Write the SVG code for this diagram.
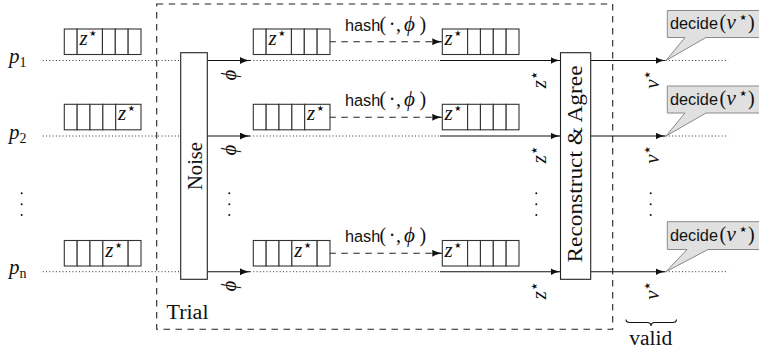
<svg xmlns="http://www.w3.org/2000/svg" width="759" height="351" viewBox="0 0 759 351">
  <style>
    .frame { fill: none; stroke: #222; stroke-width: 1.1; stroke-dasharray: 6.5 5.5; }
    .blk { fill: #fff; stroke: #222; stroke-width: 1.1; }
    .cell { fill: #fff; stroke: #333; stroke-width: 1.1; }
    .wire { fill: none; stroke: #111; stroke-width: 1.1; }
    .dotted { fill: none; stroke: #333; stroke-width: 1; stroke-dasharray: 1 2.3; }
    .hashline { fill: none; stroke: #222; stroke-width: 1.1; stroke-dasharray: 6.5 5.5; }
    .callout { fill: #e0e0e0; stroke: #8a8a8a; stroke-width: 1; }
    .rm { font-family: "Liberation Serif", "DejaVu Serif", serif; font-size: 20px; fill: #111; }
    .mi { font-family: "Liberation Serif", "DejaVu Serif", serif; font-style: italic; font-size: 21px; fill: #111; }
    .sf { font-family: "Liberation Sans", "DejaVu Sans", sans-serif; font-size: 16.3px; fill: #111; }
    .st { font-family: "DejaVu Sans", sans-serif; font-style: normal; font-size: 8px; }
    .sub { font-family: "Liberation Serif", serif; font-style: normal; font-size: 14px; }
    .vdot { fill: #111; }
  </style>
  <defs>
    <marker id="tip" markerUnits="userSpaceOnUse" markerWidth="11" markerHeight="8" refX="10" refY="3.5" orient="auto">
      <path d="M0,0 C3,2 7,3 10,3.5 C7,4 3,5 0,7 Z" fill="#111"/>
    </marker>
  </defs>

  <!-- Trial frame -->
  <g id="trial">
    <rect class="frame" x="156.7" y="4" width="456" height="325.3"/>
    <text class="rm" x="166.5" y="319" textLength="42" lengthAdjust="spacingAndGlyphs">Trial</text>
  </g>

  <!-- process labels -->
  <g id="labels">
    <text class="mi" x="9" y="63">p<tspan class="sub" dy="4">1</tspan></text>
    <text class="mi" x="9" y="138.5">p<tspan class="sub" dy="4">2</tspan></text>
    <text class="mi" x="9" y="274">p<tspan class="sub" dy="4" font-style="italic">n</tspan></text>
  </g>

  <!-- connectors -->
  <g id="connectors">
    <!-- row p1 -->
    <line class="dotted" x1="42.7" y1="60.5" x2="180.7" y2="60.5"/>
    <line class="wire" x1="207.3" y1="60.5" x2="250" y2="60.5" marker-end="url(#tip)"/>
    <line class="dotted" x1="250" y1="60.5" x2="441" y2="60.5"/>
    <line class="wire" x1="440" y1="60.5" x2="560.5" y2="60.5" marker-end="url(#tip)"/>
    <line class="wire" x1="590.7" y1="60.5" x2="665.5" y2="60.5" marker-end="url(#tip)"/>
    <line class="dotted" x1="665.5" y1="60.5" x2="728.3" y2="60.5"/>
    <line class="hashline" x1="329.3" y1="41.7" x2="442.3" y2="41.7" marker-end="url(#tip)"/>
    <!-- row p2 -->
    <line class="dotted" x1="42.7" y1="136" x2="180.7" y2="136"/>
    <line class="wire" x1="207.3" y1="136" x2="250" y2="136" marker-end="url(#tip)"/>
    <line class="dotted" x1="250" y1="136" x2="441" y2="136"/>
    <line class="wire" x1="440" y1="136" x2="560.5" y2="136" marker-end="url(#tip)"/>
    <line class="wire" x1="590.7" y1="136" x2="665.5" y2="136" marker-end="url(#tip)"/>
    <line class="dotted" x1="665.5" y1="136" x2="728.3" y2="136"/>
    <line class="hashline" x1="329.3" y1="117.2" x2="442.3" y2="117.2" marker-end="url(#tip)"/>
    <!-- row pn -->
    <line class="dotted" x1="42.7" y1="271.7" x2="180.7" y2="271.7"/>
    <line class="wire" x1="207.3" y1="271.7" x2="250" y2="271.7" marker-end="url(#tip)"/>
    <line class="dotted" x1="250" y1="271.7" x2="441" y2="271.7"/>
    <line class="wire" x1="440" y1="271.7" x2="560.5" y2="271.7" marker-end="url(#tip)"/>
    <line class="wire" x1="590.7" y1="271.7" x2="665.5" y2="271.7" marker-end="url(#tip)"/>
    <line class="dotted" x1="665.5" y1="271.7" x2="728.3" y2="271.7"/>
    <line class="hashline" x1="329.3" y1="253.2" x2="442.3" y2="253.2" marker-end="url(#tip)"/>

    <!-- hash labels -->
    <text class="sf" y="31"><tspan x="345">hash</tspan><tspan class="rm" x="379.5">(</tspan><tspan class="rm" x="388.8">·</tspan><tspan class="rm" x="396">,</tspan><tspan class="mi" x="404">ϕ</tspan><tspan class="rm" x="419.5">)</tspan></text>
    <text class="sf" y="106"><tspan x="345">hash</tspan><tspan class="rm" x="379.5">(</tspan><tspan class="rm" x="388.8">·</tspan><tspan class="rm" x="396">,</tspan><tspan class="mi" x="404">ϕ</tspan><tspan class="rm" x="419.5">)</tspan></text>
    <text class="sf" y="242"><tspan x="345">hash</tspan><tspan class="rm" x="379.5">(</tspan><tspan class="rm" x="388.8">·</tspan><tspan class="rm" x="396">,</tspan><tspan class="mi" x="404">ϕ</tspan><tspan class="rm" x="419.5">)</tspan></text>

    <!-- rotated wire labels -->
    <text class="mi" text-anchor="middle" transform="translate(236,75) rotate(-90)">ϕ</text>
    <text class="mi" text-anchor="middle" transform="translate(236,150) rotate(-90)">ϕ</text>
    <text class="mi" text-anchor="middle" transform="translate(236,286) rotate(-90)">ϕ</text>
    <text class="mi" text-anchor="middle" transform="translate(546,80) rotate(-90)">z<tspan class="st" dx="1" dy="-9">★</tspan></text>
    <text class="mi" text-anchor="middle" transform="translate(546,155) rotate(-90)">z<tspan class="st" dx="1" dy="-9">★</tspan></text>
    <text class="mi" text-anchor="middle" transform="translate(546,291) rotate(-90)">z<tspan class="st" dx="1" dy="-9">★</tspan></text>
    <text class="mi" text-anchor="middle" transform="translate(659,80) rotate(-90)">v<tspan class="st" dx="1" dy="-9">★</tspan></text>
    <text class="mi" text-anchor="middle" transform="translate(659,155) rotate(-90)">v<tspan class="st" dx="1" dy="-9">★</tspan></text>
    <text class="mi" text-anchor="middle" transform="translate(659,291) rotate(-90)">v<tspan class="st" dx="1" dy="-9">★</tspan></text>

    <!-- vertical ellipses -->
    <circle class="vdot" cx="21.7" cy="193.3" r="1"/><circle class="vdot" cx="21.7" cy="204.3" r="1"/><circle class="vdot" cx="21.7" cy="215" r="1"/>
    <circle class="vdot" cx="229.3" cy="193.3" r="1"/><circle class="vdot" cx="229.3" cy="204.3" r="1"/><circle class="vdot" cx="229.3" cy="215" r="1"/>
    <circle class="vdot" cx="536.3" cy="193.3" r="1"/><circle class="vdot" cx="536.3" cy="204.3" r="1"/><circle class="vdot" cx="536.3" cy="215" r="1"/>
    <circle class="vdot" cx="650.7" cy="193.3" r="1"/><circle class="vdot" cx="650.7" cy="204.3" r="1"/><circle class="vdot" cx="650.7" cy="215" r="1"/>
  </g>

  <!-- Noise block -->
  <g id="noise">
    <rect class="blk" x="180.7" y="52.7" width="26.6" height="226.6"/>
    <text class="rm" font-size="21" text-anchor="middle" transform="translate(201.5,166) rotate(-90)" textLength="48" lengthAdjust="spacingAndGlyphs">Noise</text>
  </g>

  <!-- Reconstruct & Agree block -->
  <g id="reconstruct">
    <rect class="blk" x="560.5" y="52.7" width="30.2" height="226.6"/>
    <text class="rm" font-size="21.5" text-anchor="middle" transform="translate(582,164) rotate(-90)" textLength="197" lengthAdjust="spacingAndGlyphs">Reconstruct &amp; Agree</text>
  </g>

  <!-- registers, row p1 -->
  <g id="reg-in-1">
    <rect class="cell" x="64.3" y="29" width="12.85" height="25.5"/>
    <rect class="cell" x="77.15" y="29" width="25.3" height="25.5"/>
    <rect class="cell" x="102.45" y="29" width="12.85" height="25.5"/>
    <rect class="cell" x="115.3" y="29" width="12.85" height="25.5"/>
    <rect class="cell" x="128.15" y="29" width="12.85" height="25.5"/>
    <text class="mi" x="79.5" y="45">z<tspan class="st" dx="1.5" dy="-9">★</tspan></text>
  </g>
  <g id="reg-mid-1">
    <rect class="cell" x="253.3" y="29" width="12.85" height="25.5"/>
    <rect class="cell" x="266.15" y="29" width="25.3" height="25.5"/>
    <rect class="cell" x="291.45" y="29" width="12.85" height="25.5"/>
    <rect class="cell" x="304.3" y="29" width="12.85" height="25.5"/>
    <rect class="cell" x="317.15" y="29" width="12.85" height="25.5"/>
    <text class="mi" x="268.5" y="45">z<tspan class="st" dx="1.5" dy="-9">★</tspan></text>
  </g>
  <g id="reg-out-1">
    <rect class="cell" x="442.3" y="29" width="25.3" height="25.5"/>
    <rect class="cell" x="467.6" y="29" width="12.85" height="25.5"/>
    <rect class="cell" x="480.45" y="29" width="12.85" height="25.5"/>
    <rect class="cell" x="493.3" y="29" width="12.85" height="25.5"/>
    <rect class="cell" x="506.15" y="29" width="12.85" height="25.5"/>
    <text class="mi" x="444.6" y="45">z<tspan class="st" dx="1.5" dy="-9">★</tspan></text>
  </g>

  <!-- registers, row p2 -->
  <g id="reg-in-2">
    <rect class="cell" x="64.3" y="104.3" width="12.85" height="25.5"/>
    <rect class="cell" x="77.15" y="104.3" width="12.85" height="25.5"/>
    <rect class="cell" x="90" y="104.3" width="12.85" height="25.5"/>
    <rect class="cell" x="102.85" y="104.3" width="12.85" height="25.5"/>
    <rect class="cell" x="115.7" y="104.3" width="25.3" height="25.5"/>
    <text class="mi" x="118" y="120.3">z<tspan class="st" dx="1.5" dy="-9">★</tspan></text>
  </g>
  <g id="reg-mid-2">
    <rect class="cell" x="253.3" y="104.3" width="12.85" height="25.5"/>
    <rect class="cell" x="266.15" y="104.3" width="12.85" height="25.5"/>
    <rect class="cell" x="279" y="104.3" width="12.85" height="25.5"/>
    <rect class="cell" x="291.85" y="104.3" width="12.85" height="25.5"/>
    <rect class="cell" x="304.7" y="104.3" width="25.3" height="25.5"/>
    <text class="mi" x="307" y="120.3">z<tspan class="st" dx="1.5" dy="-9">★</tspan></text>
  </g>
  <g id="reg-out-2">
    <rect class="cell" x="442.3" y="104.3" width="25.3" height="25.5"/>
    <rect class="cell" x="467.6" y="104.3" width="12.85" height="25.5"/>
    <rect class="cell" x="480.45" y="104.3" width="12.85" height="25.5"/>
    <rect class="cell" x="493.3" y="104.3" width="12.85" height="25.5"/>
    <rect class="cell" x="506.15" y="104.3" width="12.85" height="25.5"/>
    <text class="mi" x="444.6" y="120.3">z<tspan class="st" dx="1.5" dy="-9">★</tspan></text>
  </g>

  <!-- registers, row pn -->
  <g id="reg-in-n">
    <rect class="cell" x="64.3" y="240.5" width="12.85" height="25.5"/>
    <rect class="cell" x="77.15" y="240.5" width="12.85" height="25.5"/>
    <rect class="cell" x="90" y="240.5" width="12.85" height="25.5"/>
    <rect class="cell" x="102.85" y="240.5" width="25.3" height="25.5"/>
    <rect class="cell" x="128.15" y="240.5" width="12.85" height="25.5"/>
    <text class="mi" x="105.2" y="256.5">z<tspan class="st" dx="1.5" dy="-9">★</tspan></text>
  </g>
  <g id="reg-mid-n">
    <rect class="cell" x="253.3" y="240.5" width="12.85" height="25.5"/>
    <rect class="cell" x="266.15" y="240.5" width="12.85" height="25.5"/>
    <rect class="cell" x="279" y="240.5" width="12.85" height="25.5"/>
    <rect class="cell" x="291.85" y="240.5" width="25.3" height="25.5"/>
    <rect class="cell" x="317.15" y="240.5" width="12.85" height="25.5"/>
    <text class="mi" x="294.2" y="256.5">z<tspan class="st" dx="1.5" dy="-9">★</tspan></text>
  </g>
  <g id="reg-out-n">
    <rect class="cell" x="442.3" y="240.5" width="25.3" height="25.5"/>
    <rect class="cell" x="467.6" y="240.5" width="12.85" height="25.5"/>
    <rect class="cell" x="480.45" y="240.5" width="12.85" height="25.5"/>
    <rect class="cell" x="493.3" y="240.5" width="12.85" height="25.5"/>
    <rect class="cell" x="506.15" y="240.5" width="12.85" height="25.5"/>
    <text class="mi" x="444.6" y="256.5">z<tspan class="st" dx="1.5" dy="-9">★</tspan></text>
  </g>

  <!-- decision callouts -->
  <g id="decide-1">
    <path class="callout" d="M667.3,37.5 V10.5 H770 V37.5 H706 L666,60.5 L685,37.5 Z"/>
    <text class="sf" y="29"><tspan x="670">decide</tspan><tspan class="rm" x="719.5">(</tspan><tspan class="mi" x="726.5">v</tspan><tspan class="st" x="739.5" y="20">★</tspan><tspan class="rm" x="748" y="29">)</tspan></text>
  </g>
  <g id="decide-2">
    <path class="callout" d="M667.3,113 V86 H770 V113 H706 L666,136 L685,113 Z"/>
    <text class="sf" y="104.5"><tspan x="670">decide</tspan><tspan class="rm" x="719.5">(</tspan><tspan class="mi" x="726.5">v</tspan><tspan class="st" x="739.5" y="95.5">★</tspan><tspan class="rm" x="748" y="104.5">)</tspan></text>
  </g>
  <g id="decide-n">
    <path class="callout" d="M667.3,249.5 V221.7 H770 V249.5 H708 L666,271.7 L687,249.5 Z"/>
    <text class="sf" y="241"><tspan x="670">decide</tspan><tspan class="rm" x="719.5">(</tspan><tspan class="mi" x="726.5">v</tspan><tspan class="st" x="739.5" y="232">★</tspan><tspan class="rm" x="748" y="241">)</tspan></text>
  </g>

  <!-- validity brace -->
  <g id="valid">
    <path class="wire" d="M626,319.5 Q626,322.5 630,322.5 H647 Q651,322.5 651,326 Q651,322.5 655,322.5 H672.5 Q676.5,322.5 676.5,319.5"/>
    <text class="rm" x="629.3" y="345" textLength="43" lengthAdjust="spacingAndGlyphs">valid</text>
  </g>
</svg>
